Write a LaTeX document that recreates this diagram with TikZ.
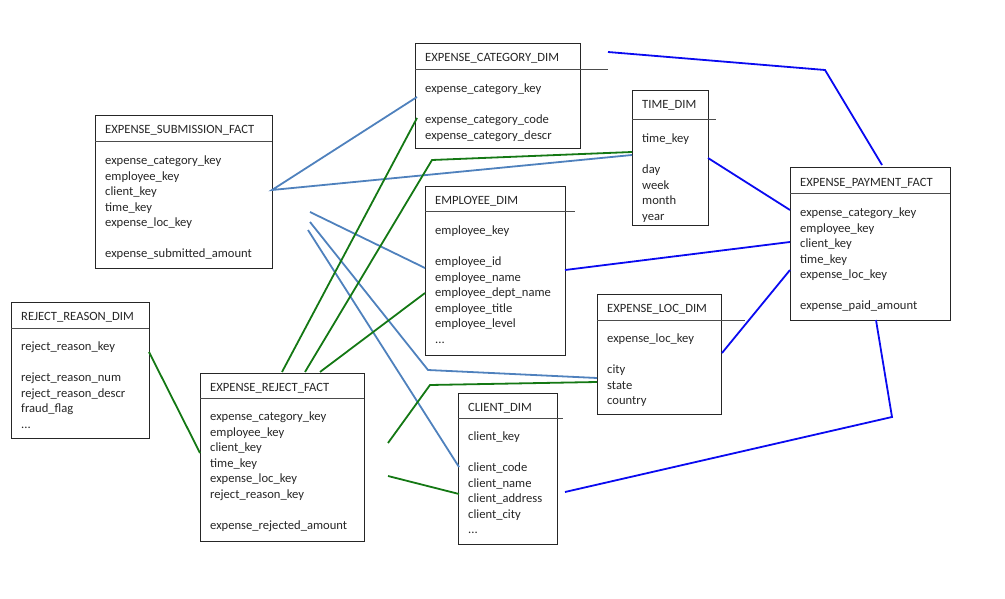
\documentclass[tikz,border=0pt]{standalone}
\usepackage{fontspec}
\setmainfont{Carlito}
\begin{document}
\begin{tikzpicture}[x=1pt,y=-1pt,
  box/.style={draw=black!85,line width=1pt},
  sep/.style={draw=black!70,line width=1pt},
  ttl/.style={anchor=base west,inner sep=0,font=\fontsize{12.6}{15.5}\selectfont,text=black!85},
  bdy/.style={anchor=north west,inner sep=0,align=left,font=\fontsize{12.6}{15.5}\selectfont,text=black!85},
  lb/.style={color={rgb,255:red,79;green,129;blue,189},line width=1.8pt},
  gr/.style={color={rgb,255:red,20;green,120;blue,20},line width=1.8pt},
  db/.style={color={rgb,255:red,10;green,10;blue,240},line width=1.8pt}]
\useasboundingbox (0,0) rectangle (1005,599);
\newcommand{\erbox}[9]{%
  \draw[box] (#2,#3) rectangle (#4,#5);
  \coordinate (#1-nw) at (#2,#3);
  \coordinate (#1-se) at (#4,#5);
  \draw[sep] (#2,#6) -- (#7,#6);
  \node[ttl] (#1-t) at (#2+10,#3+18) {#8};
  \node[bdy] (#1-b) at (#2+10,#6+14) {#9};
}
\erbox{cat}{415}{44}{580}{149}{70}{608}{EXPENSE\_CATEGORY\_DIM}{expense\_category\_key\\ \strut\\ expense\_category\_code\\ expense\_category\_descr}
\erbox{time}{632}{91}{708}{226}{120}{716}{TIME\_DIM}{time\_key\\ \strut\\ day\\ week\\ month\\ year}
\erbox{subm}{95}{116}{272}{268}{142}{272}{EXPENSE\_SUBMISSION\_FACT}{expense\_category\_key\\ employee\_key\\ client\_key\\ time\_key\\ expense\_loc\_key\\ \strut\\ expense\_submitted\_amount}
\erbox{emp}{425}{187}{565}{355}{212}{575}{EMPLOYEE\_DIM}{employee\_key\\ \strut\\ employee\_id\\ employee\_name\\ employee\_dept\_name\\ employee\_title\\ employee\_level\\ ...}
\erbox{pay}{790}{168}{950}{320}{194}{950}{EXPENSE\_PAYMENT\_FACT}{expense\_category\_key\\ employee\_key\\ client\_key\\ time\_key\\ expense\_loc\_key\\ \strut\\ expense\_paid\_amount}
\erbox{rr}{11}{302}{149}{438}{328}{149}{REJECT\_REASON\_DIM}{reject\_reason\_key\\ \strut\\ reject\_reason\_num\\ reject\_reason\_descr\\ fraud\_flag\\ ...}
\erbox{loc}{597}{294}{721}{414}{320}{745}{EXPENSE\_LOC\_DIM}{expense\_loc\_key\\ \strut\\ city\\ state\\ country}
\erbox{rej}{200}{373}{364}{541}{398}{364}{EXPENSE\_REJECT\_FACT}{expense\_category\_key\\ employee\_key\\ client\_key\\ time\_key\\ expense\_loc\_key\\ reject\_reason\_key\\ \strut\\ expense\_rejected\_amount}
\erbox{cli}{458}{393}{557}{544}{418}{563}{CLIENT\_DIM}{client\_key\\ \strut\\ client\_code\\ client\_name\\ client\_address\\ client\_city\\ ...}
% free ends
\coordinate (s1) at (272,190);
\coordinate (ca1) at (417,97); \coordinate (ti1) at (632,155);
\coordinate (f1) at (310,212); \coordinate (em1) at (425,268);
\coordinate (f2) at (310,222); \coordinate (k2) at (428,370); \coordinate (lo1) at (597,378);
\coordinate (f3) at (308,230); \coordinate (cl1) at (459,467);
\coordinate (r1) at (282,372); \coordinate (ca2) at (417,118);
\coordinate (r2) at (305,372); \coordinate (k3) at (432,160); \coordinate (ti2) at (632,152);
\coordinate (r3) at (320,372); \coordinate (em2) at (425,293);
\coordinate (g4) at (388,443); \coordinate (k4) at (430,385); \coordinate (lo2) at (597,382);
\coordinate (g5) at (388,476); \coordinate (cl2) at (459,494);
\coordinate (rr1) at (149,352); \coordinate (rj1) at (200,453);
\coordinate (ca3) at (608,52); \coordinate (k5) at (825,70); \coordinate (pa1) at (882,165);
\coordinate (ti3) at (708,158); \coordinate (pa2) at (790,210);
\coordinate (em3) at (565,270); \coordinate (pa3) at (790,242);
\coordinate (lo3) at (722,353); \coordinate (pa4) at (790,270);
\coordinate (cl3) at (565,492); \coordinate (k6) at (892,417); \coordinate (pa5) at (876,320);
\draw[lb] (ca1) -- (s1) -- (ti1);
\draw[lb] (f1) -- (em1);
\draw[lb] (f2) -- (k2) -- (lo1);
\draw[lb] (f3) -- (cl1);
\draw[gr] (r1) -- (ca2);
\draw[gr] (r2) -- (k3) -- (ti2);
\draw[gr] (r3) -- (em2);
\draw[gr] (g4) -- (k4) -- (lo2);
\draw[gr] (g5) -- (cl2);
\draw[gr] (rr1) -- (rj1);
\draw[db] (ca3) -- (k5) -- (pa1);
\draw[db] (ti3) -- (pa2);
\draw[db] (em3) -- (pa3);
\draw[db] (lo3) -- (pa4);
\draw[db] (cl3) -- (k6) -- (pa5);
\end{tikzpicture}
\end{document}
